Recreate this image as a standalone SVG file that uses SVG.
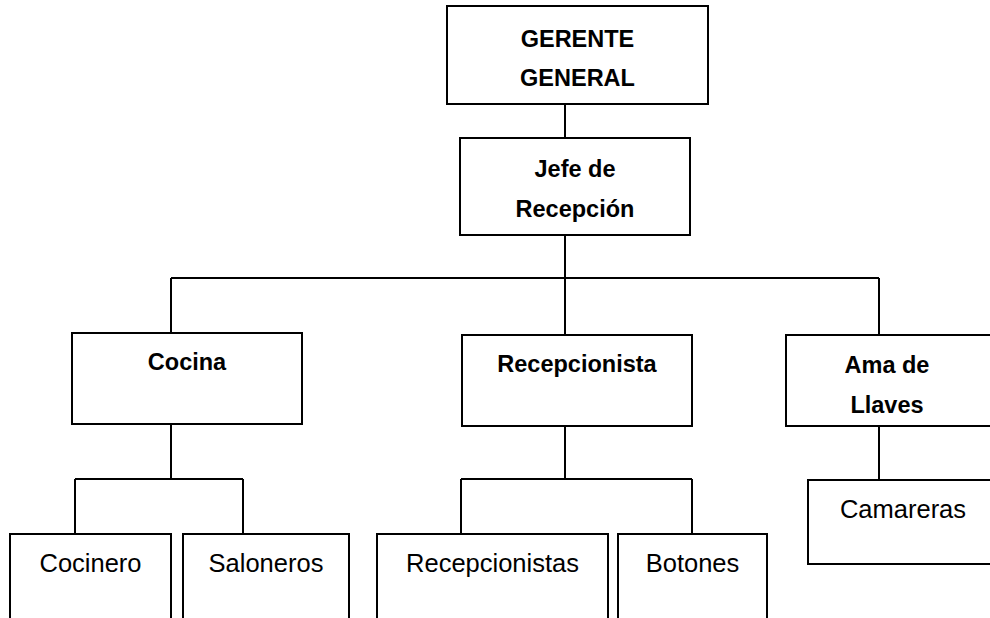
<svg xmlns="http://www.w3.org/2000/svg" width="990" height="618" viewBox="0 0 990 618">
<style>
.box{fill:#fff;stroke:#000;stroke-width:2}
.ln{stroke:#000;stroke-width:2;fill:none}
.b{font-family:"Liberation Sans",Arial,sans-serif;font-weight:bold;font-size:23.5px;fill:#000;text-anchor:middle}
.r{font-family:"Liberation Sans",Arial,sans-serif;font-size:25.5px;fill:#000;text-anchor:middle}
</style>
<rect width="990" height="618" fill="#fff"/>
<g id="connectors">
<path class="ln" d="M565 104V138"/>
<path class="ln" d="M565 235V335"/>
<path class="ln" d="M171 278H879"/>
<path class="ln" d="M171 278V333"/>
<path class="ln" d="M879 278V335"/>
<path class="ln" d="M171 424V479M75 479H243M75 479V534M243 479V534"/>
<path class="ln" d="M565 426V479M461 479H692M461 479V534M692 479V534"/>
<path class="ln" d="M879 426V480"/>
</g>
<g id="gerente"><rect class="box" x="447" y="6" width="261" height="98"/><text class="b" x="577.5" y="47">GERENTE</text><text class="b" x="577.5" y="86">GENERAL</text></g>
<g id="jefe"><rect class="box" x="460" y="138" width="230" height="97"/><text class="b" x="575" y="177">Jefe de</text><text class="b" x="575" y="217">Recepción</text></g>
<g id="cocina"><rect class="box" x="72" y="333" width="230" height="91"/><text class="b" x="187" y="370">Cocina</text></g>
<g id="recepcionista"><rect class="box" x="462" y="335" width="230" height="91"/><text class="b" x="577" y="372">Recepcionista</text></g>
<g id="ama"><rect class="box" x="786" y="335" width="205" height="91"/><text class="b" x="887" y="373">Ama de</text><text class="b" x="887" y="413">Llaves</text></g>
<g id="camareras"><rect class="box" x="808" y="480" width="200" height="84"/><text class="r" x="903" y="518">Camareras</text></g>
<g id="cocinero"><rect class="box" x="10" y="534" width="161" height="100"/><text class="r" x="90.5" y="572">Cocinero</text></g>
<g id="saloneros"><rect class="box" x="183" y="534" width="166" height="100"/><text class="r" x="266" y="572">Saloneros</text></g>
<g id="recepcionistas"><rect class="box" x="377" y="534" width="231" height="100"/><text class="r" x="492.5" y="572">Recepcionistas</text></g>
<g id="botones"><rect class="box" x="618" y="534" width="149" height="100"/><text class="r" x="692.5" y="572">Botones</text></g>
</svg>
